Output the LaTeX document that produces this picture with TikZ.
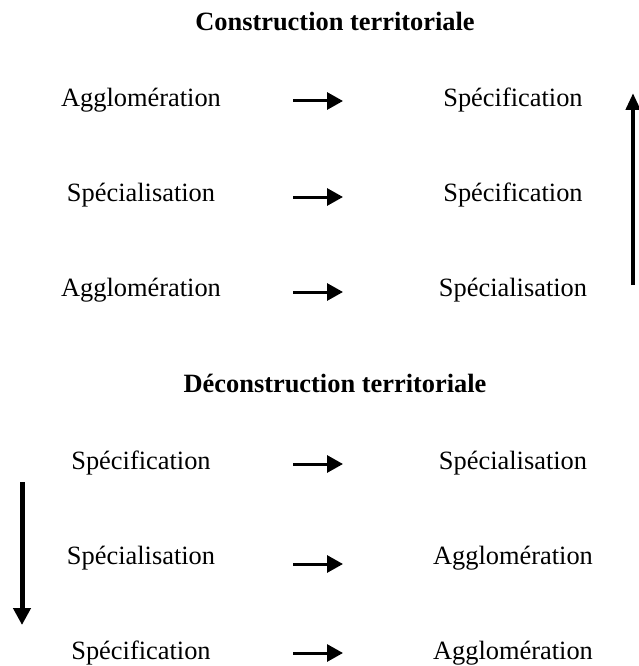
\documentclass[tikz,border=0pt]{standalone}
\usepackage{fontspec}
\setmainfont{Liberation Serif}
\usepackage{tikz}
\usetikzlibrary{arrows.meta,positioning,calc}

\begin{document}
\begin{tikzpicture}[
    x=1pt, y=-1pt,
    word/.style={inner sep=0pt, font=\fontsize{26.4}{30}\selectfont},
    heading/.style={inner sep=0pt, font=\fontsize{26.4}{30}\selectfont\bfseries},
    harrow/.style={-{Triangle[length=16pt,width=17pt]}, line width=3pt, shorten <=152pt, shorten >=170pt},
    varrow/.style={-{Triangle[length=17pt,width=14pt]}, line width=4.5pt}
]
\useasboundingbox (0,0) rectangle (639,666);

% Construction
\node[heading] (tcons) at (335,22) {Construction territoriale};

\node[word] (l1) at (141,100) {Agglomération};
\node[word] (r1) at (513,100) {Spécification};
\node[word] (l2) at (141,195) {Spécialisation};
\node[word] (r2) at (513,195) {Spécification};
\node[word] (l3) at (141,290) {Agglomération};
\node[word] (r3) at (513,290) {Spécialisation};

\draw[harrow] ([yshift=-1pt]l1.center) -- ([yshift=-1pt]r1.center);
\draw[harrow] ([yshift=-2pt]l2.center) -- ([yshift=-2pt]r2.center);
\draw[harrow] ([yshift=-2pt]l3.center) -- ([yshift=-2pt]r3.center);

\coordinate (upbot) at (633,285);
\coordinate (uptop) at (633,93);
\draw[varrow] (upbot) -- (uptop);

% Deconstruction
\node[heading] (tdec) at (335,383) {Déconstruction territoriale};

\node[word] (l4) at (141,463) {Spécification};
\node[word] (r4) at (513,463) {Spécialisation};
\node[word] (l5) at (141,558) {Spécialisation};
\node[word] (r5) at (513,558) {Agglomération};
\node[word] (l6) at (141,653) {Spécification};
\node[word] (r6) at (513,653) {Agglomération};

\draw[harrow] ([yshift=-1pt]l4.center) -- ([yshift=-1pt]r4.center);
\draw[harrow] ([yshift=-6pt]l5.center) -- ([yshift=-6pt]r5.center);
\draw[harrow] ([yshift=0pt]l6.center) -- ([yshift=0pt]r6.center);

\coordinate (dntop) at (22,482);
\coordinate (dnbot) at (22,625);
\draw[varrow, -{Triangle[length=17pt,width=17pt]}, line width=5pt] (dntop) -- (dnbot);

\end{tikzpicture}
\end{document}
